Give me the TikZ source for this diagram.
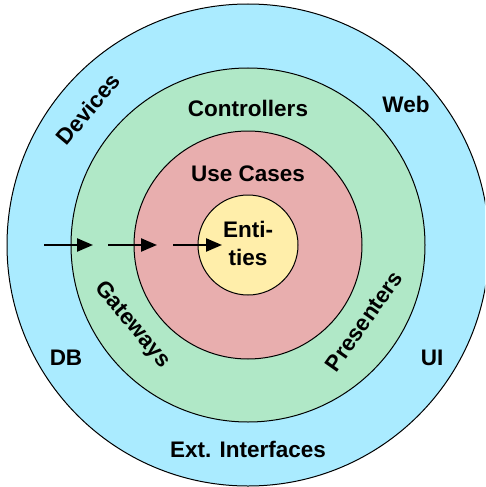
\documentclass[tikz,border=0pt]{standalone}
\usepackage{fontspec}
\setmainfont{Liberation Sans}
\usetikzlibrary{arrows.meta}
\definecolor{cblue}{RGB}{170,235,255}
\definecolor{cgreen}{RGB}{176,232,199}
\definecolor{cred}{RGB}{232,174,174}
\definecolor{cyellow}{RGB}{255,238,170}
\tikzset{
  ring/.style={circle, draw=black, line width=1pt, inner sep=0pt},
  lbl/.style={font=\fontsize{22.5}{26}\selectfont\bfseries, inner sep=0pt, align=center},
  flow/.style={line width=2.3pt, -{Triangle[length=16pt,width=13pt]}}
}
\begin{document}
\begin{tikzpicture}[x=1pt,y=-1pt]
\useasboundingbox (0,0) rectangle (485,487);
\clip (0,0) rectangle (485,487);
\node[ring, fill=cblue, minimum size=482pt] (outer) at (248,245) {};
\node[ring, fill=cgreen, minimum size=354pt] (green) at (248,245) {};
\node[ring, fill=cred, minimum size=228pt] (red) at (248,245) {};
\node[ring, fill=cyellow, minimum size=100pt] (core) at (248,245) {};
\coordinate (a1s) at (44,245);
\coordinate (a1e) at (93,245);
\coordinate (a2s) at (108,245);
\coordinate (a2e) at (157,245);
\coordinate (a3s) at (173,245);
\coordinate (a3e) at (222,245);
\draw[flow] (a1s) -- (a1e);
\draw[flow] (a2s) -- (a2e);
\draw[flow] (a3s) -- (a3e);
\node[lbl] (ent) at (248,243) {Enti-\\[2pt]ties};
\node[lbl] (uc) at (248,174) {Use Cases};
\node[lbl] (ctrl) at (248,108) {Controllers};
\node[lbl] (web) at (406,104) {Web};
\node[lbl] (db) at (66,358) {DB};
\node[lbl] (ui) at (432,358) {UI};
\node[lbl] (ext) at (248,449) {Ext. Interfaces};
\node[lbl, rotate=50] (dev) at (88,109) {Devices};
\node[lbl, rotate=-50] (gw) at (132,325) {Gateways};
\node[lbl, rotate=55] (pres) at (364,321) {Presenters};
\end{tikzpicture}
\end{document}
